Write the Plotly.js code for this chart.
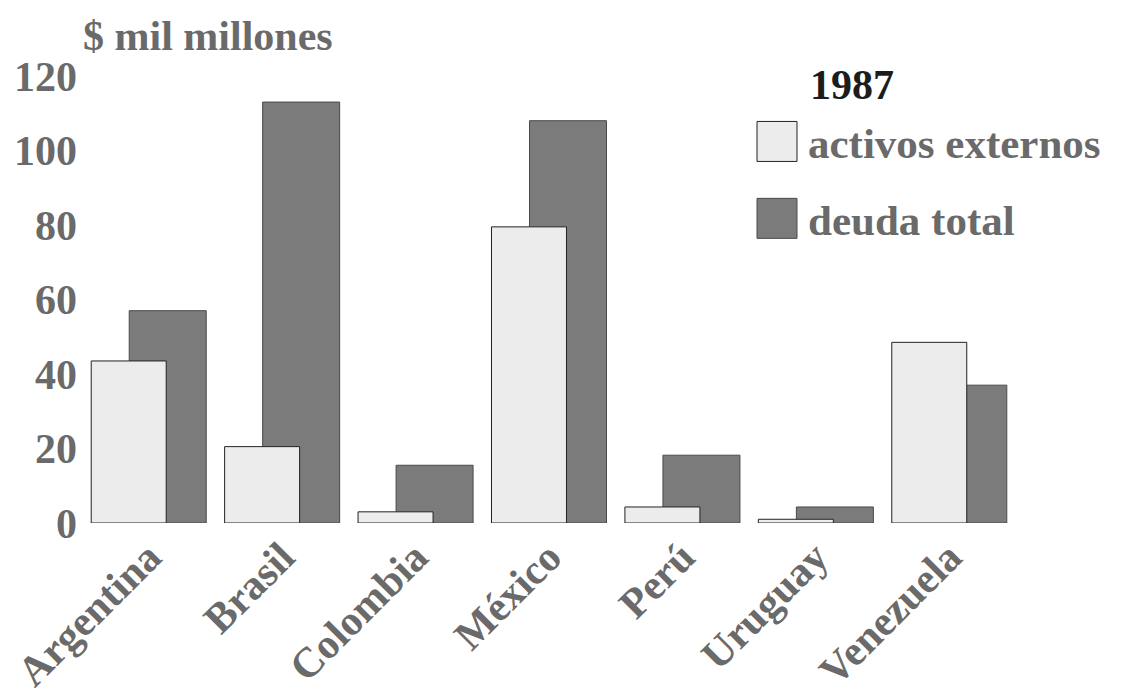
<!DOCTYPE html>
<html>
<head>
<meta charset="utf-8">
<script src="https://cdn.plot.ly/plotly-3.0.1.min.js"></script>
<style>html,body{margin:0;padding:0;background:#fff;}</style>
</head>
<body>
<div id="chart" style="width:1134px;height:698px;"></div>
<script>
// Data (US$ billions, 1987)
const countries = ["Argentina", "Brasil", "Colombia", "México", "Perú", "Uruguay", "Venezuela"];
const activosExternos = [43.5, 20.5, 3, 79.5, 4.3, 1, 48.5];
const deudaTotal = [57, 113, 15.5, 108, 18.2, 4.3, 37];
const yTicks = [0, 20, 40, 60, 80, 100, 120];
const seriesNames = ["activos externos", "deuda total"];
const yTitle = "$ mil millones";
const yearLabel = "1987";

const serif = "Liberation Serif, Times New Roman, serif";
const grey = "#6a6a6a";

const traceDeuda = {
  type: "bar",
  name: seriesNames[1],
  x: countries,
  y: deudaTotal,
  offset: -0.146,
  width: 0.577,
  marker: {color: "#7b7b7b", line: {color: "#4a4a4a", width: 1}},
  legendrank: 2,
  legendgroup: "b",
  hoverinfo: "x+y+name"
};
const traceActivos = {
  type: "bar",
  name: seriesNames[0],
  x: countries,
  y: activosExternos,
  offset: -0.431,
  width: 0.562,
  marker: {color: "#ececec", line: {color: "#222222", width: 1}},
  legendrank: 1,
  legendgroup: "a",
  hoverinfo: "x+y+name"
};

const layout = {
  width: 1134,
  height: 698,
  paper_bgcolor: "#ffffff",
  plot_bgcolor: "#ffffff",
  margin: {l: 82, r: 118, t: 76, b: 175},
  barmode: "overlay",
  font: {family: serif, size: 42, color: grey, weight: "bold"},
  title: {
    text: yTitle,
    x: 83 / 1134, xanchor: "left", xref: "container",
    y: 1 - 35 / 698, yanchor: "middle", yref: "container",
    font: {family: serif, size: 42, color: grey, weight: "bold"}
  },
  xaxis: {
    type: "category",
    range: [-0.5, 6.5],
    tickangle: -45,
    ticks: "",
    showline: false,
    showgrid: false,
    zeroline: false,
    tickfont: {family: serif, size: 42, color: grey, weight: "bold"},
    automargin: false
  },
  yaxis: {
    range: [0, 120],
    tickvals: yTicks,
    ticktext: yTicks.map(String),
    ticks: "",
    showline: false,
    showgrid: false,
    zeroline: false,
    ticklabelstandoff: 4,
    tickfont: {family: serif, size: 42, color: grey, weight: "bold"},
    automargin: false
  },
  showlegend: true,
  legend: {
    x: (738 - 82) / 934, xanchor: "left",
    y: (523 - 107) / 447, yanchor: "top",
    bgcolor: "rgba(0,0,0,0)",
    itemwidth: 60,
    traceorder: "grouped",
    tracegroupgap: 18,
    font: {family: serif, size: 43, color: grey, weight: "bold"},
    itemclick: false, itemdoubleclick: false
  },
  annotations: [{
    text: yearLabel,
    xref: "paper", yref: "paper",
    x: (808 - 82) / 934, xanchor: "left",
    y: (523 - 85) / 447, yanchor: "middle",
    showarrow: false,
    font: {family: serif, size: 42, color: "#1c1c1c", weight: "bold"}
  }]
};

Plotly.newPlot("chart", [traceDeuda, traceActivos], layout, {staticPlot: true, displayModeBar: false}).then(function (gd) {
  // enlarge legend swatches to big squares like the original
  const items = gd.querySelectorAll(".legend .traces");
  items.forEach(function (it) {
    const txt = it.querySelector("text.legendtext");
    const tx = txt ? parseFloat(txt.getAttribute("x")) : 70;
    const right = tx - 11, left = right - 40;
    it.querySelectorAll(".legendpoints path").forEach(function (p) {
      p.setAttribute("transform", "");
      p.setAttribute("d", "M" + right + ",20H" + left + "V-20H" + right + "Z");
    });
  });
});
</script>
</body>
</html>
